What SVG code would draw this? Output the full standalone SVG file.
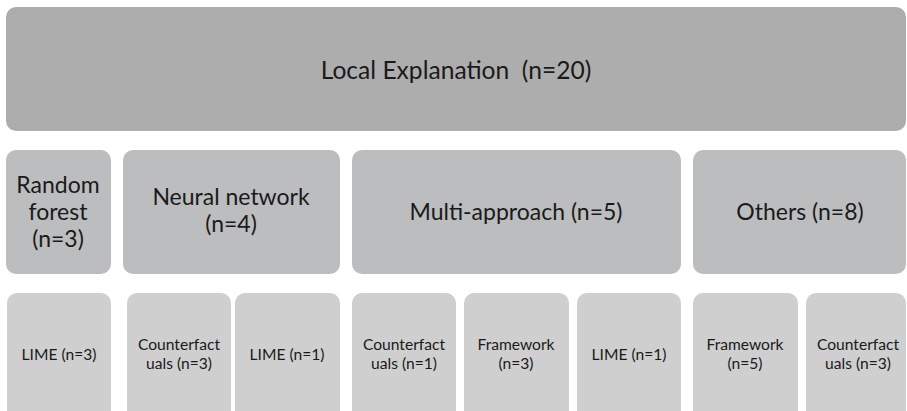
<svg xmlns="http://www.w3.org/2000/svg" width="907" height="411" viewBox="0 0 907 411">
<style>
  .l0 { fill: #adadad; }
  .l1 { fill: #bcbdbf; }
  .l2 { fill: #cfcfcf; }
  text { font-family: Lato, "Open Sans", sans-serif; fill: #1a1a1a; text-anchor: middle; }
  .t0 { font-size: 24.6px; }
  .t1 { font-size: 23px; }
  .t2 { font-size: 15.6px; }
</style>
<rect width="907" height="411" fill="#ffffff"/>
<g id="local-explanation">
  <rect class="l0" x="6" y="7" width="900" height="124" rx="10"/>
  <text class="t0" x="456" y="79" xml:space="preserve">Local Explanation  (n=20)</text>
</g>
<g id="random-forest">
  <rect class="l1" x="6" y="150" width="105" height="124" rx="10"/>
  <text class="t1" x="58" y="193">Random</text>
  <text class="t1" x="58" y="220">forest</text>
  <text class="t1" x="58" y="247">(n=3)</text>
</g>
<g id="neural-network">
  <rect class="l1" x="123" y="150" width="217" height="124" rx="10"/>
  <text class="t1" x="231" y="205">Neural network</text>
  <text class="t1" x="231" y="232">(n=4)</text>
</g>
<g id="multi-approach">
  <rect class="l1" x="352" y="150" width="329" height="124" rx="10"/>
  <text class="t1" x="516" y="220">Multi-approach (n=5)</text>
</g>
<g id="others">
  <rect class="l1" x="693" y="150" width="213" height="124" rx="10"/>
  <text class="t1" x="800" y="220">Others (n=8)</text>
</g>
<g id="rf-lime">
  <rect class="l2" x="7" y="293" width="104" height="130" rx="10"/>
  <text class="t2" x="59" y="360">LIME (n=3)</text>
</g>
<g id="nn-counterfactuals">
  <rect class="l2" x="127" y="293" width="104" height="130" rx="10"/>
  <text class="t2" x="179" y="350">Counterfact</text>
  <text class="t2" x="179" y="369">uals (n=3)</text>
</g>
<g id="nn-lime">
  <rect class="l2" x="235" y="293" width="105" height="130" rx="10"/>
  <text class="t2" x="287" y="360">LIME (n=1)</text>
</g>
<g id="ma-counterfactuals">
  <rect class="l2" x="352" y="293" width="104" height="130" rx="10"/>
  <text class="t2" x="404" y="350">Counterfact</text>
  <text class="t2" x="404" y="369">uals (n=1)</text>
</g>
<g id="ma-framework">
  <rect class="l2" x="464" y="293" width="105" height="130" rx="10"/>
  <text class="t2" x="516" y="350">Framework</text>
  <text class="t2" x="516" y="369">(n=3)</text>
</g>
<g id="ma-lime">
  <rect class="l2" x="577" y="293" width="104" height="130" rx="10"/>
  <text class="t2" x="629" y="360">LIME (n=1)</text>
</g>
<g id="ot-framework">
  <rect class="l2" x="693" y="293" width="105" height="130" rx="10"/>
  <text class="t2" x="745" y="350">Framework</text>
  <text class="t2" x="745" y="369">(n=5)</text>
</g>
<g id="ot-counterfactuals">
  <rect class="l2" x="806" y="293" width="100" height="130" rx="10"/>
  <text class="t2" x="858" y="350">Counterfact</text>
  <text class="t2" x="858" y="369">uals (n=3)</text>
</g>
<g id="connectors"></g>
</svg>
